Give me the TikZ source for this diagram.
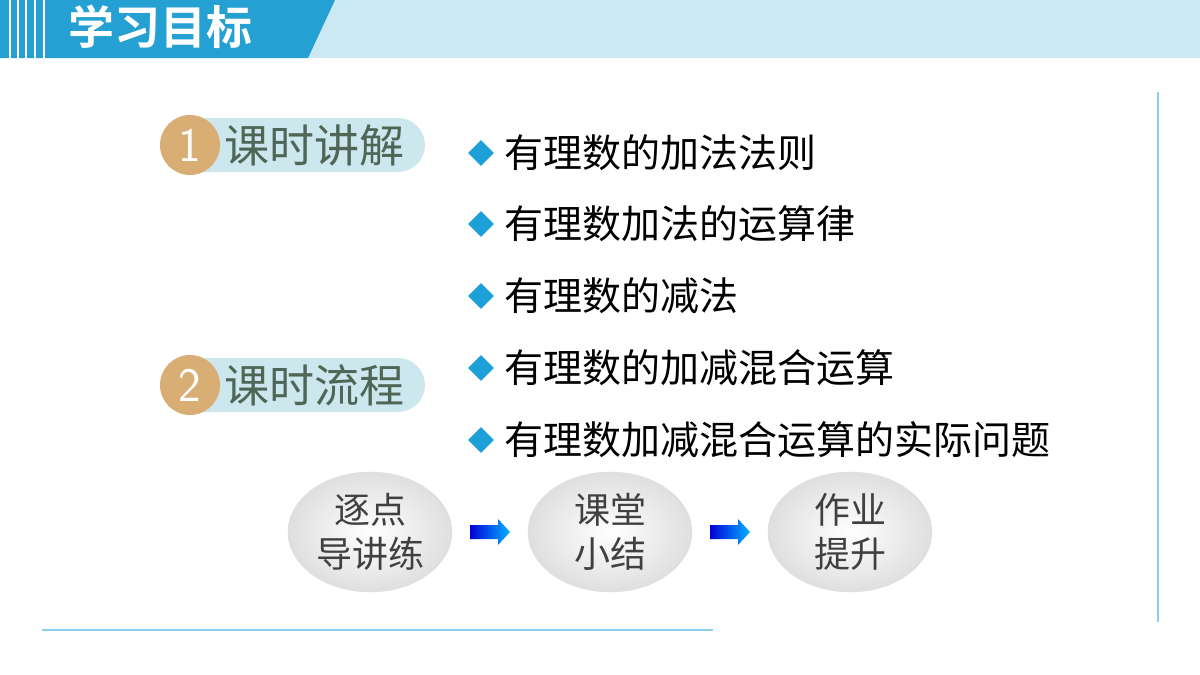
\documentclass[tikz,border=0pt]{standalone}
\usepackage{fontspec}
\newfontfamily\cjk{Noto Sans CJK SC}
\newfontfamily\cjkb{Noto Sans CJK SC Bold}
\usetikzlibrary{shapes.geometric}
\definecolor{hdr}{HTML}{24A0D2}
\definecolor{hdrl}{HTML}{CCE8F2}
\definecolor{tan}{HTML}{D9AE74}
\definecolor{pill}{HTML}{CDE7EE}
\definecolor{gtxt}{HTML}{4F6657}
\definecolor{dia}{HTML}{1E9FD8}
\definecolor{lin}{HTML}{8CCDEB}
\tikzset{
 bul/.style={diamond,fill=dia,inner sep=0pt,minimum size=26pt},
 item/.style={anchor=west,font=\cjk\fontsize{39}{40}\selectfont,text=black,inner sep=0pt},
 ball/.style={ellipse,minimum width=164pt,minimum height=120pt,draw=gray!25,
   inner color=white,outer color=gray!25,align=center,
   font=\cjk\fontsize{36}{44}\selectfont,text=black!75},
}
\begin{document}
\begin{tikzpicture}[x=1pt,y=-1pt]
\useasboundingbox (0,0) rectangle (1200,675);
\fill[white] (0,0) rectangle (1200,675);
\fill[hdrl] (0,0) rectangle (1200,58);
\fill[hdr] (0,0) -- (335,0) -- (308,58) -- (0,58) -- cycle;
\foreach \x in {9,17,25,34,43}{\fill[white] (\x,0) rectangle (\x+2,58);}
\node[font=\cjkb\fontsize{46}{46}\selectfont,text=white,anchor=west,inner sep=0] (title) at (68,27) {学习目标};
% badges
\foreach \y/\n/\t [count=\i] in {145/1/课时讲解,385/2/课时流程}{
 \fill[pill] (190,\y-27) -- (398,\y-27) arc(-90:90:27) -- (190,\y+27) -- cycle;
 \node[circle,fill=tan,minimum size=60pt,inner sep=0,text=white,font=\sffamily\fontsize{48}{48}\selectfont] (b\i) at (190,\y) {\n};
 \node[anchor=west,inner sep=0,text=gtxt,font=\cjk\fontsize{45}{45}\selectfont] (bt\i) at (224,\y) {\t};
}
\foreach \y/\t [count=\i] in {153/有理数的加法法则,224/有理数加法的运算律,296/有理数的减法,368/有理数的加减混合运算,440/有理数加减混合运算的实际问题}{
 \node[bul] (d\i) at (481,\y) {};
 \node[item] (t\i) at (504,\y) {\t};
}
\node[ball] (c1) at (370,532) {逐点\\导讲练};
\node[ball] (c2) at (610,532) {课堂\\小结};
\node[ball] (c3) at (850,532) {作业\\提升};
\foreach \a/\b in {c1/c2,c2/c3}{
 \path (\a.east) -- (\b.west) coordinate[pos=0.5] (m\a);
 \shade[left color=blue!85!black,right color=cyan!70!blue]
   ([xshift=-20pt,yshift=-7pt]m\a) -- ([xshift=8pt,yshift=-7pt]m\a) -- ([xshift=8pt,yshift=-13pt]m\a) -- ([xshift=20pt]m\a) -- ([xshift=8pt,yshift=13pt]m\a) -- ([xshift=8pt,yshift=7pt]m\a) -- ([xshift=-20pt,yshift=7pt]m\a) -- cycle;
}
\draw[lin,line width=1.5pt] (1158,92) -- (1158,622);
\draw[lin,line width=1.5pt] (42,630) -- (713,630);
\end{tikzpicture}
\end{document}
